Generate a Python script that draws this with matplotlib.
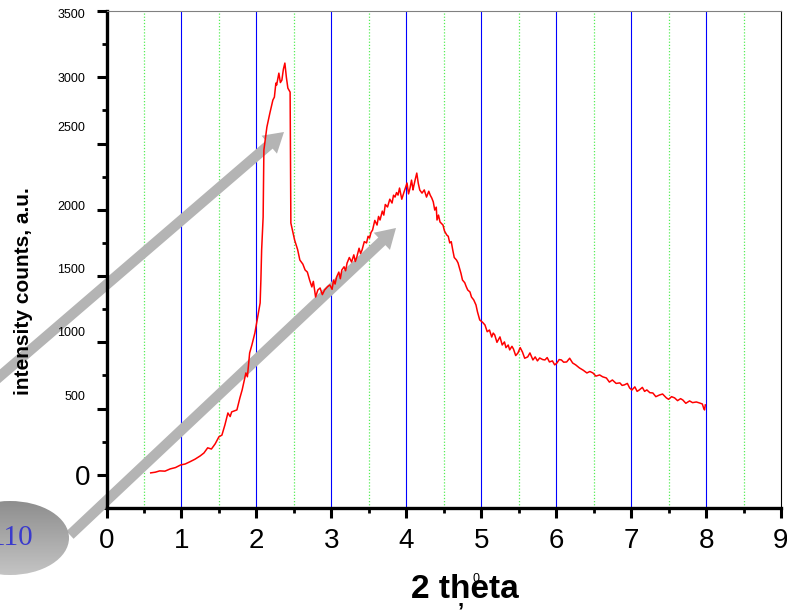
import numpy as np
import matplotlib
matplotlib.use("Agg")
import matplotlib.pyplot as plt
from matplotlib.patches import FancyArrowPatch, Ellipse
from matplotlib import transforms as mtransforms

plt.rcParams['font.family'] = ['Liberation Sans', 'DejaVu Sans']

# ---------------- data ----------------
two_theta = [0.59, 0.65, 0.71, 0.78, 0.85, 0.92, 0.99, 1.05, 1.11, 1.18, 1.25, 1.30, 1.35, 1.40, 1.45,
             1.50, 1.54, 1.58, 1.62, 1.65, 1.67, 1.74, 1.78, 1.81, 1.86, 1.88, 1.91, 1.94, 1.98, 2.01,
             2.05, 2.06, 2.07, 2.09, 2.10, 2.14, 2.18, 2.22, 2.24, 2.26, 2.27, 2.30, 2.32, 2.34, 2.36,
             2.38, 2.40, 2.42, 2.45, 2.46, 2.51, 2.55, 2.58, 2.62, 2.65, 2.68, 2.71, 2.74, 2.76, 2.79,
             2.82, 2.85, 2.88, 2.91, 2.95, 2.98, 3.01, 3.03, 3.05, 3.07, 3.10, 3.12, 3.14, 3.17, 3.19,
             3.21, 3.24, 3.27, 3.30, 3.32, 3.34, 3.37, 3.39, 3.41, 3.44, 3.47, 3.49, 3.51, 3.53, 3.55,
             3.58, 3.61, 3.63, 3.65, 3.68, 3.70, 3.72, 3.75, 3.78, 3.81, 3.83, 3.85, 3.87, 3.89, 3.91,
             3.94, 3.97, 4.01, 4.03, 4.05, 4.07, 4.09, 4.10, 4.12, 4.14, 4.16, 4.18, 4.21, 4.24, 4.27,
             4.30, 4.32, 4.34, 4.36, 4.38, 4.40, 4.41, 4.43, 4.45, 4.49, 4.51, 4.54, 4.56, 4.58, 4.60,
             4.62, 4.64, 4.67, 4.69, 4.71, 4.73, 4.75, 4.78, 4.80, 4.82, 4.85, 4.87, 4.90, 4.93, 4.95,
             4.98, 5.02, 5.05, 5.08, 5.11, 5.14, 5.16, 5.18, 5.21, 5.25, 5.28, 5.31, 5.33, 5.36, 5.38,
             5.41, 5.43, 5.46, 5.49, 5.52, 5.55, 5.58, 5.62, 5.65, 5.69, 5.72, 5.75, 5.78, 5.82, 5.85,
             5.88, 5.91, 5.95, 5.98, 6.01, 6.04, 6.07, 6.10, 6.14, 6.18, 6.22, 6.26, 6.31, 6.36, 6.41,
             6.45, 6.49, 6.53, 6.58, 6.62, 6.67, 6.71, 6.75, 6.80, 6.85, 6.88, 6.91, 6.95, 6.98, 7.01,
             7.05, 7.08, 7.11, 7.15, 7.18, 7.21, 7.25, 7.29, 7.33, 7.38, 7.42, 7.47, 7.50, 7.54, 7.58,
             7.62, 7.66, 7.69, 7.73, 7.78, 7.82, 7.87, 7.91, 7.95, 7.97, 7.98, 7.99]
intensity = [15, 20, 30, 28, 45, 55, 75, 82, 98, 118, 143, 165, 204, 195, 234,
             287, 300, 377, 467, 440, 475, 490, 581, 641, 769, 740, 920, 980, 1071, 1169,
             1297, 1470, 1697, 1945, 2451, 2624, 2730, 2828, 2850, 2956, 2941, 3031, 2960, 2978, 3060,
             3107, 3000, 2918, 2888, 1900, 1772, 1700, 1621, 1590, 1546, 1530, 1470, 1418, 1460, 1342,
             1395, 1410, 1360, 1395, 1420, 1433, 1400, 1470, 1440, 1493, 1530, 1480, 1546, 1570, 1540,
             1598, 1640, 1606, 1660, 1610, 1644, 1710, 1670, 1697, 1760, 1750, 1800, 1787, 1830, 1847,
             1920, 1885, 1950, 1923, 1990, 1960, 2040, 2021, 2080, 2051, 2110, 2096, 2130, 2111, 2164,
             2080, 2134, 2202, 2120, 2164, 2224, 2150, 2179, 2230, 2277, 2200, 2149, 2126, 2150, 2096,
             2140, 2110, 2089, 2060, 1998, 2020, 1923, 1960, 1908, 1885, 1840, 1810, 1800, 1750, 1760,
             1697, 1640, 1621, 1600, 1561, 1520, 1470, 1450, 1420, 1395, 1380, 1342, 1320, 1282, 1230,
             1169, 1150, 1131, 1080, 1093, 1040, 1070, 1056, 1000, 1041, 980, 1003, 960, 980, 943,
             970, 950, 900, 920, 960, 927, 880, 890, 920, 867, 890, 860, 882, 870, 867,
             885, 852, 860, 830, 844, 870, 867, 850, 852, 880, 844, 830, 807, 790, 769,
             780, 769, 745, 754, 740, 731, 700, 716, 690, 694, 675, 679, 690, 656, 640,
             664, 630, 641, 660, 630, 641, 620, 618, 590, 603, 610, 581, 570, 590, 581,
             560, 575, 565, 540, 558, 545, 550, 543, 535, 500, 490, 528]

x_ticks = [0, 1, 2, 3, 4, 5, 6, 7, 8, 9]
x_minor = [0.5, 1.5, 2.5, 3.5, 4.5, 5.5, 6.5, 7.5, 8.5]
blue_grid = [1, 2, 3, 4, 5, 6, 7, 8]
green_grid = [0.5, 1.5, 2.5, 3.5, 4.5, 5.5, 6.5, 7.5, 8.5]
y_ticks = [0, 500, 1000, 1500, 2000, 2500, 3000, 3500]
y_tick_labels = ['0', '500', '1000', '1500', '2000', '2500', '3000', '3500']
y_minor = [-250, 250, 750, 1250, 1750, 2250, 2750, 3250]

# ---------------- figure ----------------
W, H = 787, 610
fig = plt.figure(figsize=(W / 100, H / 100), dpi=100)
ax = fig.add_axes([106.5 / W, 1 - 508 / H, (781 - 106.5) / W, (508 - 11) / H])
ax.set_xlim(0, 9)
ax.set_ylim(-250, 3500)

for gx in blue_grid:
    ax.axvline(gx, color='#0000ff', lw=0.8, zorder=1)
for gx in green_grid:
    ax.axvline(gx, color='#55ee55', lw=0.9, ls=(0, (1, 1.5)), zorder=1)

# decorative arrows (pixel coords of the image)
def fp(px, py):
    return (px / W, 1 - py / H)

for start, end in [((-30, 402), (284, 132)), ((70, 535), (396, 228))]:
    arr = FancyArrowPatch(fp(*start), fp(*end), transform=fig.transFigure,
                          arrowstyle='simple,head_length=14,head_width=17,tail_width=7.5',
                          mutation_scale=1, shrinkA=0, shrinkB=0,
                          color='#b4b4b4', lw=0, clip_on=False, zorder=2)
    ax.add_patch(arr)

ax.plot(two_theta, intensity, color='red', lw=1.1, zorder=3)

# spines
ax.spines['left'].set_linewidth(2.4)
ax.spines['bottom'].set_linewidth(2.4)
ax.spines['top'].set_linewidth(0.8)
ax.spines['top'].set_color('#808080')
ax.spines['right'].set_linewidth(0.8)

ax.set_xticks(x_ticks)
ax.set_xticks(x_minor, minor=True)
ax.set_xticklabels([str(v) for v in x_ticks])
ax.set_yticks(y_ticks)
ax.set_yticks(y_minor, minor=True)
ax.set_yticklabels([])
ax.tick_params(axis='both', which='major', direction='out', length=7.5, width=2.2,
               colors='black')
ax.tick_params(axis='both', which='minor', direction='out', length=3.8, width=2.0)
ax.tick_params(axis='x', which='major', labelsize=20, pad=7)

# y tick labels (hand-placed offsets like the reference)
label_dy = [-3, 12, 9, 6, 3, 16, -2, -4]
blend = mtransforms.blended_transform_factory(ax.transAxes, ax.transData)
for val, lab, dy in zip(y_ticks, y_tick_labels, label_dy):
    big = (lab == '0')
    dx = -16.5 if big else -21.5
    tr = blend + mtransforms.ScaledTranslation(dx / 100, dy / 100, fig.dpi_scale_trans)
    ax.text(0, val, lab, transform=tr, ha='right', va='center',
            fontsize=20 if big else 9, clip_on=False)

# axis labels
fig.text(24 / W, 1 - 291 / H, 'intensity counts, a.u.', rotation=90, ha='center',
         va='center', fontsize=15, fontweight='bold')
fig.text(465 / W, 1 - 590 / H, '2 theta', ha='center', va='center', fontsize=24,
         fontweight='bold')
fig.text(476 / W, 1 - 579 / H, '0', ha='center', va='center', fontsize=9)
fig.text(461 / W, 1 - 600 / H, ',', ha='center', va='center', fontsize=16, fontweight='bold')

# ellipse with gradient and "110"
oax = fig.add_axes([0, 0, 1, 1], zorder=5)
oax.set_xlim(0, W)
oax.set_ylim(H, 0)
oax.axis('off')
oax.patch.set_alpha(0)
ell = Ellipse((10, 538), 118, 74, transform=oax.transData, facecolor='none', edgecolor='none')
oax.add_patch(ell)
grad = np.linspace(0, 1, 100).reshape(-1, 1)
im = oax.imshow(grad, cmap=matplotlib.colors.LinearSegmentedColormap.from_list(
    'g', ['#c4c4c4', '#8e8e8e']), extent=(-50, 70, 501, 575), origin='upper',
    aspect='auto', zorder=1)
im.set_clip_path(ell)
oax.text(12, 538, '110', ha='center', va='center', fontsize=21, color='#3a3acc',
         family=['Liberation Serif', 'DejaVu Serif'], zorder=2)
oax.set_xlim(0, W)
oax.set_ylim(H, 0)

fig.savefig('out.png', dpi=100)
